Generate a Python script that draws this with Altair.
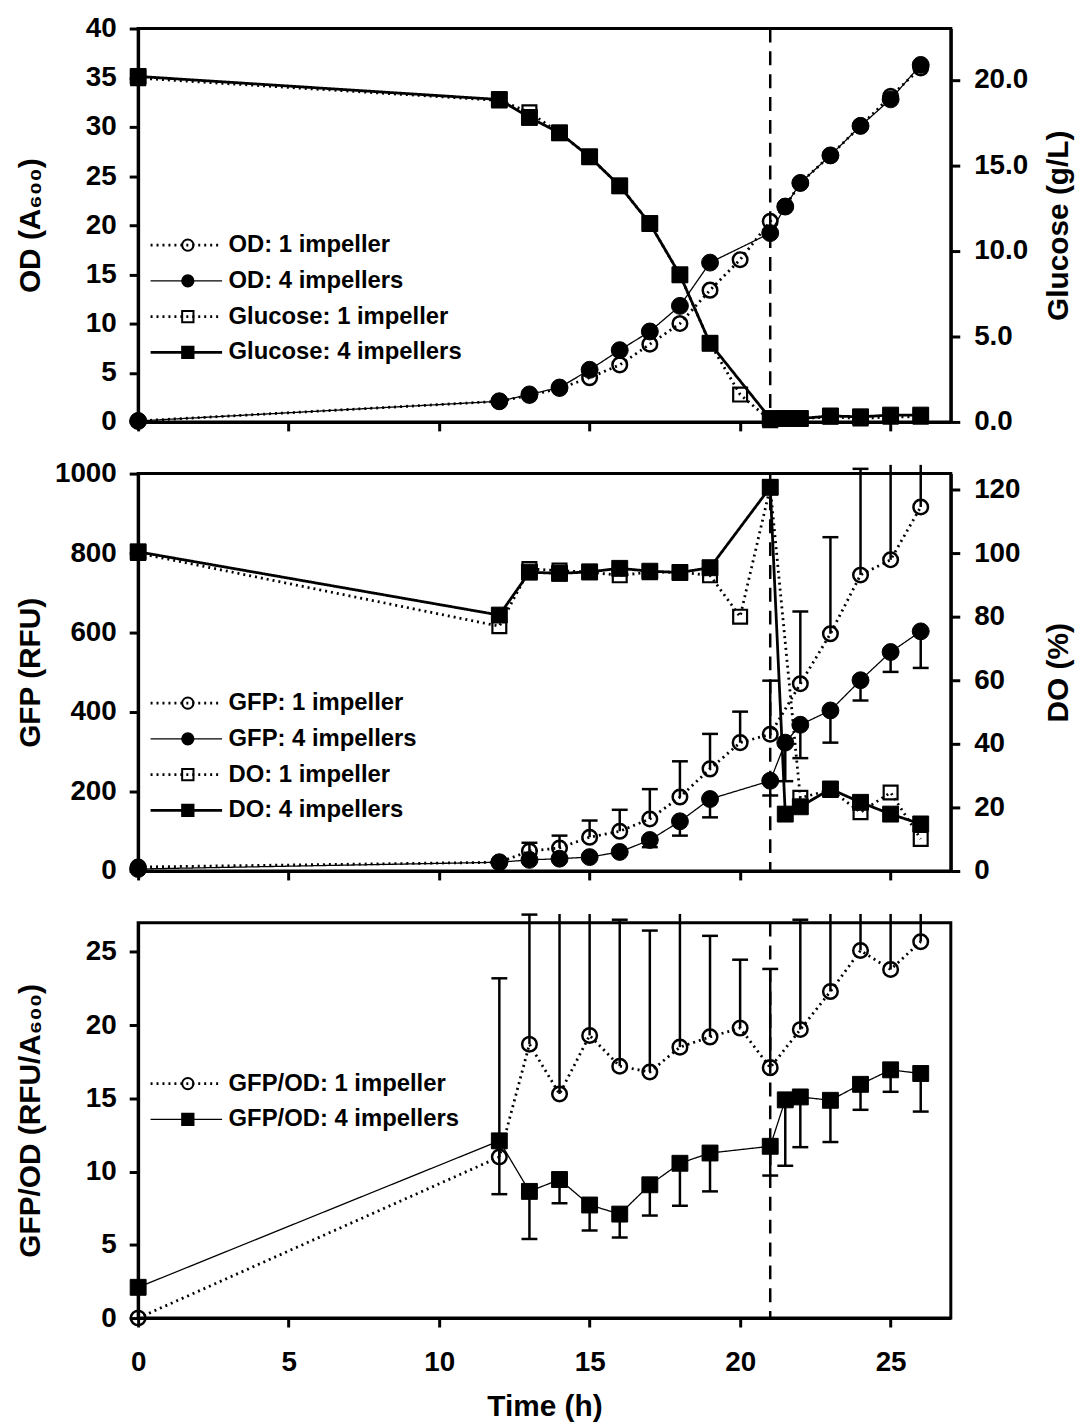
import altair as alt
import pandas as pd

# ---------------- data ----------------
time_h = [0, 12, 13, 14, 15, 16, 17, 18, 19, 20, 21, 21.5, 22, 23, 24, 25, 26]

# Panel 1: OD (left axis) and glucose (right axis)
od_1imp = [0.1, 2.1, 2.7, 3.4, 4.5, 5.8, 7.9, 10.0, 13.4, 16.5, 20.4, 21.9, 24.3, 27.1, 30.1, 33.1, 36.0]
od_4imp = [0.1, 2.1, 2.8, 3.5, 5.3, 7.3, 9.2, 11.8, 16.2, None, 19.2, 21.9, 24.3, 27.1, 30.1, 32.8, 36.3]
glc_1imp = [20.1, 18.8, 18.1, 16.9, 15.5, 13.8, 11.6, 8.6, 4.6, 1.6, 0.1, 0.2, 0.2, 0.3, 0.2, 0.3, 0.3]
glc_4imp = [20.2, 18.85, 17.8, 16.9, 15.5, 13.8, 11.6, 8.6, 4.6, None, 0.2, 0.2, 0.2, 0.35, 0.3, 0.4, 0.4]

# Panel 2: GFP (left axis, with error bars) and DO (right axis)
gfp_1imp = [10, 22, 50, 58, 85, 100, 131, 186, 257, 323, 344, None, 471, 597, 745, 783, 916]
gfp_1imp_err = [0, 0, 21, 31, 42, 54, 75, 90, 88, 78, 135, 0, 182, 243, 267, 280, 200]
gfp_4imp = [5, 22, 28, 31, 35, 48, 78, 125, 181, None, 227, 323, 368, 404, 480, 551, 603]
gfp_4imp_err = [0, 0, 0, 0, 0, 0, 18, 36, 46, 0, 37, 97, 84, 81, 51, 50, 92]
do_1imp = [100, 77, 95, 94.5, 94, 93, 94, 94, 93, 80, 120.7, None, 23, 25.5, 18.5, 24.7, 10.1]
do_4imp = [100.4, 80.5, 94, 93.6, 94.1, 95.2, 94.3, 93.9, 95.4, None, 120.7, 17.9, 20.2, 25.8, 21.6, 17.9, 14.8]

# Panel 3: GFP/OD with error bars
ratio_1imp = [0, 11.0, 18.7, 15.3, 19.3, 17.2, 16.8, 18.5, 19.2, 19.8, 17.1, None, 19.7, 22.3, 25.1, 23.8, 25.7]
ratio_1imp_err = [0, 12.2, 8.85, 15, 10, 10.0, 9.66, 10, 6.9, 4.67, 6.74, 0, 7.5, 6, 4, 5, 3]
ratio_4imp = [2.1, 12.1, 8.65, 9.46, 7.72, 7.1, 9.1, 10.57, 11.27, None, 11.73, 14.9, 15.1, 14.87, 15.96, 16.95, 16.7]
ratio_4imp_err = [0, 3.64, 3.25, 1.62, 1.74, 1.6, 2.1, 2.9, 2.62, 0, 2.0, 4.5, 3.43, 2.85, 1.74, 1.5, 2.6]

feed_switch_h = [21]

labels_p1 = ["OD: 1 impeller", "OD: 4 impellers", "Glucose: 1 impeller", "Glucose: 4 impellers"]
labels_p2 = ["GFP: 1 impeller", "GFP: 4 impellers", "DO: 1 impeller", "DO: 4 impellers"]
labels_p3 = ["GFP/OD: 1 impeller", "GFP/OD: 4 impellers"]

# ---------------- styling ----------------
FONT = "Liberation Sans"
W = 818
H1, H2, H3 = 396, 400, 398
X_TICKS = [0, 5, 10, 15, 20, 25]
DOT = [2, 4]
SOLID = [1, 0]
THIN, THICK = 1.3, 2.8
OVERSHOOT = 1.022  # error bars may poke slightly above the frame
CLIP_H = 26


def mkey(label):
    # marker legend keys differ from line legend keys so the two legends stay separate
    return label + " "


def make_df(label, values, err=None, direction=1, ymax=None):
    rows = []
    for i, (t, v) in enumerate(zip(time_h, values)):
        if v is None:
            continue
        row = {"t": t, "v": v, "lbl": label, "lbl_m": mkey(label)}
        if err is not None:
            e = err[i]
            end = v + direction * e
            cap = e > 0
            if ymax is not None and end > ymax * OVERSHOOT:
                end = ymax * OVERSHOOT
                cap = False
            row["v_end"] = end
            row["cap"] = cap
            row["has_err"] = e > 0
        rows.append(row)
    return pd.DataFrame(rows)


def xenc(show_labels):
    if show_labels:
        ax = alt.Axis(values=X_TICKS, title="Time (h)", format="d", labelPadding=22,
                      titlePadding=15, labelFlush=False)
    else:
        ax = alt.Axis(values=X_TICKS, title="", labels=False)
    return alt.X("t:Q", scale=alt.Scale(domain=[0, 27], nice=False, zero=False), axis=ax)


def yaxis(values, side, title, H, fmt="d"):
    return alt.Axis(orient=side, values=values, title=title, format=fmt,
                    titleX=-108 if side == "left" else 108, titleY=H / 2,
                    titleAngle=270, titleAlign="center", titleBaseline="middle",
                    labelPadding=13 if side == "left" else 14)


def yenc(field, domain, ax):
    return alt.Y(field + ":Q", scale=alt.Scale(domain=domain, nice=False, zero=False), axis=ax)


def legend_line(lx, ly):
    return alt.Legend(orient="none", legendX=lx, legendY=ly, title=None,
                      symbolType="stroke", symbolSize=72 * 72, clipHeight=CLIP_H,
                      symbolStrokeColor="black", symbolFillColor="transparent",
                      symbolOpacity=1,
                      labelFont=FONT, labelFontSize=24, labelFontWeight="bold",
                      labelColor="black", labelOffset=5, labelLimit=0, rowPadding=10,
                      padding=0)


def legend_mark(lx, ly):
    return alt.Legend(orient="none", legendX=lx, legendY=ly, title=None,
                      symbolSize=130, clipHeight=CLIP_H, symbolStrokeColor="black",
                      symbolStrokeWidth=2, symbolOpacity=1, labelFont=FONT, labelFontSize=24,
                      labelFontWeight="bold", labelColor="transparent", labelExpr="''",
                      labelLimit=0, rowPadding=10, padding=0)


def lines(df, labels, dashes, widths, X, Y, leg):
    return alt.Chart(df).mark_line(color="black", clip=False).encode(
        x=X, y=Y,
        strokeDash=alt.StrokeDash("lbl:N", scale=alt.Scale(domain=labels, range=dashes), legend=leg),
        strokeWidth=alt.StrokeWidth("lbl:N", scale=alt.Scale(type="ordinal", domain=labels, range=widths),
                                    legend=leg),
    )


def points(df, labels, shapes, fills, X, Y, leg, size, sw):
    keys = [mkey(l) for l in labels]
    return alt.Chart(df).mark_point(strokeWidth=sw, size=size, opacity=1,
                                    filled=False, clip=False).encode(
        x=X, y=Y,
        shape=alt.Shape("lbl_m:N", scale=alt.Scale(domain=keys, range=shapes), legend=leg),
        fill=alt.Fill("lbl_m:N", scale=alt.Scale(domain=keys, range=fills), legend=leg),
        stroke=alt.Stroke("lbl_m:N", scale=alt.Scale(domain=keys, range=["black"] * len(keys)),
                          legend=leg),
    )


def errbars(df, X, domain, ax):
    d = df[df["has_err"]]
    rule = alt.Chart(d).mark_rule(color="black", strokeWidth=2.5, clip=False).encode(
        x=X, y=yenc("v", domain, ax), y2=alt.Y2("v_end"))
    cap = alt.Chart(d[d["cap"]]).mark_point(shape="M-1,0H1", size=256, stroke="black",
                                           strokeWidth=2.5, filled=False, opacity=1,
                                           clip=False).encode(
        x=X, y=yenc("v_end", domain, ax))
    return [rule, cap]


def vline(X):
    return alt.Chart(pd.DataFrame({"t": feed_switch_h})).mark_rule(
        color="black", strokeWidth=2.5, strokeDash=[14, 9]).encode(x=X)


shapes4 = ["circle", "circle", "square", "square"]
fills4 = ["transparent", "black", "transparent", "black"]
dashes4 = [DOT, SOLID, DOT, SOLID]
LXA, LXB = 11, 38
OPEN_C, FILL_C, OPEN_S, FILL_S = 215, 290, 195, 256

# ---------------- panel 1 ----------------
X1 = xenc(False)
legA1, legB1 = legend_line(LXA, 205), legend_mark(LXB, 205)
ax1L = yaxis([0, 5, 10, 15, 20, 25, 30, 35, 40], "left", "OD (A₆₀₀)", H1)
ax1R = yaxis([0, 5, 10, 15, 20], "right", "Glucose (g/L)", H1, fmt=".1f")
Y1L = yenc("v", [0, 40], ax1L)
Y1R = yenc("v", [0, 23], ax1R)
w1 = [THICK, THIN, THICK, THICK]
od_lines = pd.concat([make_df(labels_p1[0], od_1imp), make_df(labels_p1[1], od_4imp)])
glc_lines = pd.concat([make_df(labels_p1[2], glc_1imp), make_df(labels_p1[3], glc_4imp)])

left1 = alt.layer(
    lines(od_lines, labels_p1, dashes4, w1, X1, Y1L, legA1),
    points(make_df(labels_p1[0], od_1imp), labels_p1, shapes4, fills4, X1, Y1L, legB1, OPEN_C, 2.5),
    points(make_df(labels_p1[1], od_4imp), labels_p1, shapes4, fills4, X1, Y1L, legB1, FILL_C, 1),
)
right1 = alt.layer(
    lines(glc_lines, labels_p1, dashes4, w1, X1, Y1R, legA1),
    points(make_df(labels_p1[2], glc_1imp), labels_p1, shapes4, fills4, X1, Y1R, legB1, OPEN_S, 2.2),
    points(make_df(labels_p1[3], glc_4imp), labels_p1, shapes4, fills4, X1, Y1R, legB1, FILL_S, 1),
)
panel1 = alt.layer(left1, right1, vline(X1)).resolve_scale(y="independent").properties(width=W, height=H1)

# ---------------- panel 2 ----------------
X2 = xenc(False)
legA2, legB2 = legend_line(LXA, 218), legend_mark(LXB, 218)
ax2L = yaxis([0, 200, 400, 600, 800, 1000], "left", "GFP (RFU)", H2)
ax2R = yaxis([0, 20, 40, 60, 80, 100, 120], "right", "DO (%)", H2)
Y2L = yenc("v", [0, 1000], ax2L)
Y2R = yenc("v", [0, 125], ax2R)
w2 = [THICK, THIN, THICK, THICK]
g1 = make_df(labels_p2[0], gfp_1imp, gfp_1imp_err, +1, 1000)
g4 = make_df(labels_p2[1], gfp_4imp, gfp_4imp_err, -1, 1000)
d1 = make_df(labels_p2[2], do_1imp)
d4 = make_df(labels_p2[3], do_4imp)

left2 = alt.layer(
    *errbars(g1, X2, [0, 1000], ax2L),
    *errbars(g4, X2, [0, 1000], ax2L),
    lines(pd.concat([g1, g4]), labels_p2, dashes4, w2, X2, Y2L, legA2),
    points(g1, labels_p2, shapes4, fills4, X2, Y2L, legB2, OPEN_C, 2.5),
    points(g4, labels_p2, shapes4, fills4, X2, Y2L, legB2, FILL_C, 1),
)
right2 = alt.layer(
    lines(pd.concat([d1, d4]), labels_p2, dashes4, w2, X2, Y2R, legA2),
    points(d1, labels_p2, shapes4, fills4, X2, Y2R, legB2, OPEN_S, 2.2),
    points(d4, labels_p2, shapes4, fills4, X2, Y2R, legB2, FILL_S, 1),
)
panel2 = alt.layer(left2, right2, vline(X2)).resolve_scale(y="independent").properties(width=W, height=H2)

# ---------------- panel 3 ----------------
X3 = xenc(True)
legA3, legB3 = legend_line(LXA, 149), legend_mark(LXB, 149)
ax3L = yaxis([0, 5, 10, 15, 20, 25], "left", "GFP/OD (RFU/A₆₀₀)", H3)
Y3L = yenc("v", [0, 27], ax3L)
r1 = make_df(labels_p3[0], ratio_1imp, ratio_1imp_err, +1, 27)
r4 = make_df(labels_p3[1], ratio_4imp, ratio_4imp_err, -1, 27)
shapes2 = ["circle", "square"]
fills2 = ["transparent", "black"]

panel3 = alt.layer(
    *errbars(r1, X3, [0, 27], ax3L),
    *errbars(r4, X3, [0, 27], ax3L),
    lines(pd.concat([r1, r4]), labels_p3, [DOT, SOLID], [THICK, THIN], X3, Y3L, legA3),
    points(r1, labels_p3, shapes2, fills2, X3, Y3L, legB3, OPEN_C, 2.5),
    points(r4, labels_p3, shapes2, fills2, X3, Y3L, legB3, FILL_S, 1),
    vline(X3),
).properties(width=W, height=H3)

chart = alt.vconcat(panel1, panel2, panel3, spacing=52, bounds="flush").resolve_scale(
    strokeDash="independent", strokeWidth="independent", shape="independent",
    fill="independent", stroke="independent"
).properties(
    padding={"left": 6, "top": 0, "right": 0, "bottom": 0},
    background="white",
).configure_axis(
    grid=False, domainColor="black", domainWidth=3, tickColor="black", tickWidth=3,
    tickSize=9, labelFont=FONT, labelFontSize=28, labelFontWeight="bold", labelColor="black",
    titleFont=FONT, titleFontSize=30, titleFontWeight="bold", titleColor="black",
    labelOverlap=False,
).configure_view(stroke="black", strokeWidth=3)

chart.save("out.html", embed_options={"renderer": "svg", "actions": False})
